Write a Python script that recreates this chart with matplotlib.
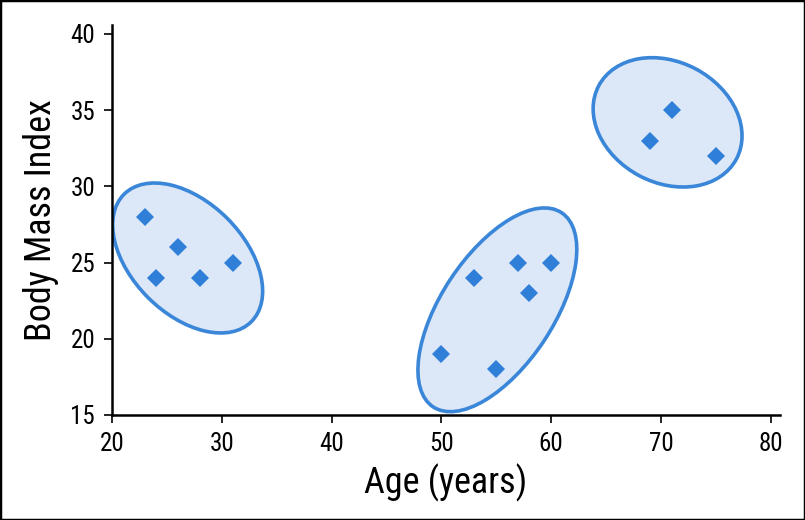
import matplotlib
matplotlib.use("Agg")
import matplotlib.pyplot as plt
from matplotlib.patches import Ellipse, Rectangle
from matplotlib.transforms import Affine2D
from matplotlib import font_manager

names = {f.name for f in font_manager.fontManager.ttflist}
prefs = ["Roboto Condensed", "Archivo Narrow", "PT Sans Narrow", "Liberation Sans Narrow",
         "Fira Sans Condensed", "IBM Plex Sans Condensed", "Encode Sans Condensed",
         "Barlow Semi Condensed", "Liberation Sans"]
fam = next(p for p in prefs if p in names)
plt.rcParams['font.family'] = [fam, 'DejaVu Sans']

# Data
age_g1 = [23, 24, 26, 28, 31]
bmi_g1 = [28, 24, 26, 24, 25]
age_g2 = [50, 53, 55, 57, 58, 60]
bmi_g2 = [19, 24, 18, 25, 23, 25]
age_g3 = [69, 71, 75]
bmi_g3 = [33, 35, 32]

# Cluster ellipses: center (age, bmi), semi-axes in age units (isotropic display space), angle in degrees
ell_centers = [(26.9, 25.3), (55.1, 21.9), (70.6, 34.2)]
ell_axes = [(8.2, 5.1), (10.6, 5.1), (7.1, 5.5)]
ell_angles = [-45, 56.5, -28]

x_ticks = [20, 30, 40, 50, 60, 70, 80]
y_ticks = [15, 20, 25, 30, 35, 40]

edge_c = "#3a86d8"
fill_c = "#dce7f8"
mark_c = "#2f7fd8"

W, H = 8.05, 5.2
fig = plt.figure(figsize=(W, H), dpi=100)
pos = [0.139, 0.202, 0.830, 0.750]
ax = fig.add_axes(pos)
xlim = (20, 80.84)
ylim = (15, 40.59)
ax.set_xlim(*xlim)
ax.set_ylim(*ylim)

px_x = W * pos[2] / (xlim[1] - xlim[0])
px_y = H * pos[3] / (ylim[1] - ylim[0])
r = px_y / px_x
iso = Affine2D().scale(1, 1 / r) + ax.transData

for (cx, cy), (a, b), ang in zip(ell_centers, ell_axes, ell_angles):
    e = Ellipse((cx, cy * r), 2 * a, 2 * b, angle=ang, transform=iso,
                facecolor=fill_c, edgecolor=edge_c, linewidth=2.6, zorder=2)
    ax.add_patch(e)

for xs, ys in [(age_g1, bmi_g1), (age_g2, bmi_g2), (age_g3, bmi_g3)]:
    ax.plot(xs, ys, linestyle='none', marker='D', markersize=9.5,
            color=mark_c, markeredgewidth=0, zorder=3, clip_on=False)

ax.spines['top'].set_visible(False)
ax.spines['right'].set_visible(False)
for s in ['left', 'bottom']:
    ax.spines[s].set_linewidth(1.8)
ax.set_xticks(x_ticks)
ax.set_yticks(y_ticks)
ax.tick_params(direction='out', length=6, width=1.2, labelsize=18, pad=6)
ax.set_xlabel("Age (years)", fontsize=26, labelpad=6)
ax.set_ylabel("Body Mass Index", fontsize=26, labelpad=8)

fig.add_artist(Rectangle((0, 0), 1, 1, transform=fig.transFigure, fill=False,
                         edgecolor='black', linewidth=2.5))

fig.savefig("out.png", dpi=100)
